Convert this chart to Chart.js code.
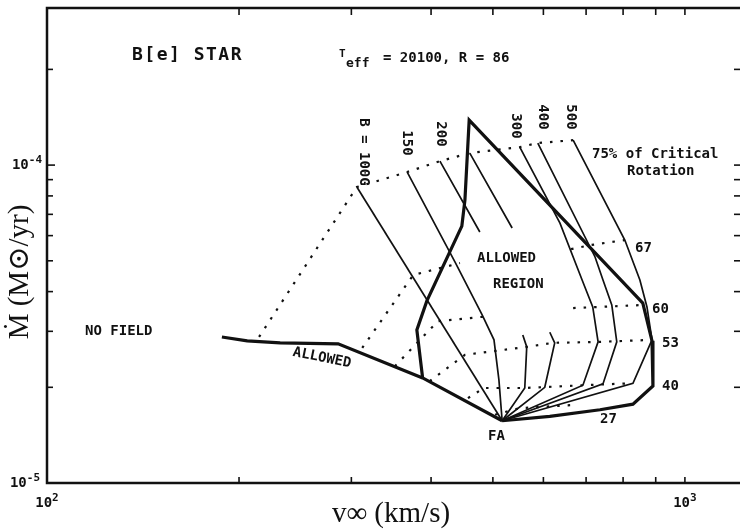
<!DOCTYPE html>
<html>
<head>
<meta charset="utf-8">
<script src="https://cdn.jsdelivr.net/npm/chart.js@4.4.0/dist/chart.umd.min.js"></script>
<style>
  html, body { margin: 0; padding: 0; background: #fff; }
  #wrap { width: 740px; height: 530px; }
</style>
</head>
<body>
<div id="wrap"><canvas id="chart" width="740" height="530"></canvas></div>
<script>
// Mdot vs v_inf grid for a B[e] star, Teff = 20100, R = 86
// each point is [v_inf (km/s), Mdot (1e-5 Mo/yr)], null = gap in the curve

const xTicks = [200, 300, 400, 500, 600, 700, 800, 900, 1000];
const yTicks = [2, 3, 4, 5, 6, 7, 8, 9, 10, 20];

// thick boundaries
const noFieldEdge = [[188, 2.88], [206, 2.80], [232, 2.76], [286, 2.74], [388, 2.14], [517, 1.57]];
const allowedEdge = [[388, 2.14], [380, 3.03], [394, 3.74], [447, 6.43], [452, 7.76], [459, 13.85],
  [859, 3.68], [888, 2.80], [891, 2.02], [829, 1.77], [736, 1.70], [614, 1.62], [517, 1.57]];

// constant field strength curves (B in gauss)
const b100 = [[306, 8.53], [517, 1.57]];
const b150 = [[367, 9.51], [436, 4.96], [481, 3.38], [502, 2.82], [511, 2.11], [517, 1.57]];
const b200 = [[413, 10.29], [477, 6.16], null, [557, 2.92], [565, 2.68], [561, 1.99], [517, 1.57]];
const b250 = [[460, 10.91], [536, 6.34], null, [614, 2.98], [625, 2.76], [603, 2.00], [517, 1.57]];
const b300 = [[551, 11.39], [637, 6.57], [690, 4.35], [717, 3.58], [731, 2.78], [692, 2.03], [517, 1.57]];
const b400 = [[588, 11.73], [723, 5.14], [744, 4.35], [768, 3.63], [782, 2.78], [744, 2.05], [517, 1.57]];
const b500 = [[668, 11.98], [805, 5.81], [850, 4.35], [872, 3.58], [888, 2.82], [829, 2.06], [517, 1.57]];

// constant fraction of critical rotation (dotted)
const rot75 = [[215, 2.88], [306, 8.53], [367, 9.51], [413, 10.29], [460, 10.91], [551, 11.39], [588, 11.73], [668, 11.98]];
const rot67 = [[312, 2.66], [375, 4.51], [444, 4.92], null, [663, 5.44], [710, 5.60], [805, 5.81]];
const rot60 = [[351, 2.33], [410, 3.23], [495, 3.35], null, [668, 3.55], [859, 3.63]];
const rot53 = [[398, 2.09], [452, 2.53], [565, 2.68], [621, 2.76], [736, 2.78], [888, 2.82]];
const rot40 = [[457, 1.85], [484, 1.99], [561, 1.99], [692, 2.03], [829, 2.06]];
const rot27 = [[504, 1.64], [551, 1.72], [672, 1.76]];

const LABEL_FONT = 'bold 14px "DejaVu Sans Mono", monospace';
const INK = '#111';

function toPoints(arr) {
  return arr.map(p => p ? { x: p[0], y: p[1] * 1e-5 } : { x: null, y: null });
}

function curve(arr, width, dotted) {
  return {
    data: toPoints(arr),
    showLine: true,
    borderColor: INK,
    borderWidth: width,
    borderDash: dotted ? [2.5, 8] : [],
    pointRadius: 0,
    spanGaps: false,
    tension: 0
  };
}

const labels = [
  { t: 'NO FIELD', x: 85, y: 335 },
  { t: 'ALLOWED', x: 477, y: 262 },
  { t: 'REGION', x: 493, y: 288 },
  { t: 'ALLOWED', x: 322, y: 358, align: 'center', baseline: 'middle', rotate: 0.2 },
  { t: 'FA', x: 488, y: 440 },
  { t: '27', x: 600, y: 423 },
  { t: '40', x: 662, y: 390 },
  { t: '53', x: 662, y: 347 },
  { t: '60', x: 652, y: 313 },
  { t: '67', x: 635, y: 252 },
  { t: '75% of Critical', x: 592, y: 158 },
  { t: 'Rotation', x: 627, y: 175 },
  { t: 'B = 100G', x: 364, y: 152, align: 'center', baseline: 'middle', rotate: Math.PI / 2 },
  { t: '150', x: 407, y: 143, align: 'center', baseline: 'middle', rotate: Math.PI / 2 },
  { t: '200', x: 441, y: 134, align: 'center', baseline: 'middle', rotate: Math.PI / 2 },
  { t: '300', x: 516, y: 126, align: 'center', baseline: 'middle', rotate: Math.PI / 2 },
  { t: '400', x: 543, y: 117, align: 'center', baseline: 'middle', rotate: Math.PI / 2 },
  { t: '500', x: 571, y: 117, align: 'center', baseline: 'middle', rotate: Math.PI / 2 },
  { t: '= 20100, R = 86', x: 383, y: 62 },
  { t: 'T', x: 339, y: 57, font: 'bold 11px "DejaVu Sans Mono", monospace' },
  { t: 'eff', x: 346, y: 67, font: 'bold 13px "DejaVu Sans Mono", monospace' },
  { t: 'B[e] STAR', x: 132, y: 60, font: 'bold 18px "DejaVu Sans Mono", monospace', spacing: '1.5px' }
];

function drawText(ctx, o) {
  ctx.save();
  ctx.font = o.font || LABEL_FONT;
  ctx.fillStyle = INK;
  ctx.textAlign = o.align || 'left';
  ctx.textBaseline = o.baseline || 'alphabetic';
  if (o.spacing) ctx.letterSpacing = o.spacing;
  ctx.translate(o.x, o.y);
  if (o.rotate) ctx.rotate(o.rotate);
  ctx.fillText(o.t, 0, 0);
  ctx.restore();
}

// 10 with a superscript exponent
function powerLabel(ctx, exp, x, y, align) {
  ctx.save();
  ctx.fillStyle = INK;
  ctx.textBaseline = 'alphabetic';
  ctx.font = 'bold 14px "DejaVu Sans Mono", monospace';
  const w1 = ctx.measureText('10').width;
  ctx.font = 'bold 11px "DejaVu Sans Mono", monospace';
  const w2 = ctx.measureText(exp).width;
  let left = align === 'right' ? x - w1 - w2 : x - (w1 + w2) / 2;
  ctx.font = 'bold 14px "DejaVu Sans Mono", monospace';
  ctx.fillText('10', left, y);
  ctx.font = 'bold 11px "DejaVu Sans Mono", monospace';
  ctx.fillText(exp, left + w1, y - 6);
  ctx.restore();
}

const framePlugin = {
  id: 'frame',
  afterDraw(chart) {
    const ctx = chart.ctx;
    const a = chart.chartArea;
    const xs = chart.scales.x;
    const ys = chart.scales.y;
    const seg = (x1, y1, x2, y2) => { ctx.beginPath(); ctx.moveTo(x1, y1); ctx.lineTo(x2, y2); ctx.stroke(); };

    ctx.save();
    ctx.strokeStyle = INK;
    ctx.lineWidth = 2.5;
    ctx.beginPath();
    ctx.moveTo(a.right + 3, a.top);
    ctx.lineTo(a.left, a.top);
    ctx.lineTo(a.left, a.bottom);
    ctx.lineTo(a.right + 3, a.bottom);
    ctx.stroke();

    ctx.lineWidth = 1.6;
    xTicks.forEach(v => {
      const px = xs.getPixelForValue(v);
      seg(px, a.bottom, px, a.bottom - 6);
      seg(px, a.top, px, a.top + 7);
    });
    yTicks.forEach(m => {
      const py = ys.getPixelForValue(m * 1e-5);
      seg(a.left, py, a.left + (m === 10 ? 8 : 6), py);
      seg(a.right, py, a.right - 6, py);
    });
    ctx.restore();

    powerLabel(ctx, '2', xs.getPixelForValue(100), a.bottom + 24, 'center');
    powerLabel(ctx, '3', xs.getPixelForValue(1000), a.bottom + 24, 'center');
    powerLabel(ctx, '-5', a.left - 7, ys.getPixelForValue(1e-5) + 4, 'right');
    powerLabel(ctx, '-4', a.left - 5, ys.getPixelForValue(1e-4) + 4, 'right');

    labels.forEach(o => drawText(ctx, o));

    // axis titles
    ctx.save();
    ctx.fillStyle = INK;
    ctx.font = '29px "Liberation Serif", "DejaVu Serif", serif';
    ctx.textAlign = 'center';
    ctx.textBaseline = 'alphabetic';
    ctx.fillText('v\u221E (km/s)', 391, 522);
    ctx.translate(28, 272);
    ctx.rotate(-Math.PI / 2);
    ctx.fillText('\u1E40 (M\u2299/yr)', 0, 0);
    ctx.restore();
  }
};

new Chart(document.getElementById('chart'), {
  type: 'scatter',
  data: {
    datasets: [
      curve(rot75, 2.2, true),
      curve(rot67, 2.2, true),
      curve(rot60, 2.2, true),
      curve(rot53, 2.2, true),
      curve(rot40, 2.2, true),
      curve(rot27, 2.2, true),
      curve(b100, 1.7),
      curve(b150, 1.7),
      curve(b200, 1.7),
      curve(b250, 1.7),
      curve(b300, 1.7),
      curve(b400, 1.7),
      curve(b500, 1.7),
      curve(noFieldEdge, 3.2),
      curve(allowedEdge, 3.2)
    ]
  },
  options: {
    responsive: false,
    animation: false,
    events: [],
    devicePixelRatio: 1,
    layout: { padding: { left: 47, top: 8, right: 0, bottom: 47 } },
    plugins: { legend: { display: false }, tooltip: { enabled: false } },
    scales: {
      x: { type: 'logarithmic', min: 100, max: 1220, bounds: 'data', display: false },
      y: { type: 'logarithmic', min: 1e-5, max: 3.12e-4, bounds: 'data', display: false }
    }
  },
  plugins: [framePlugin]
});
</script>
</body>
</html>
